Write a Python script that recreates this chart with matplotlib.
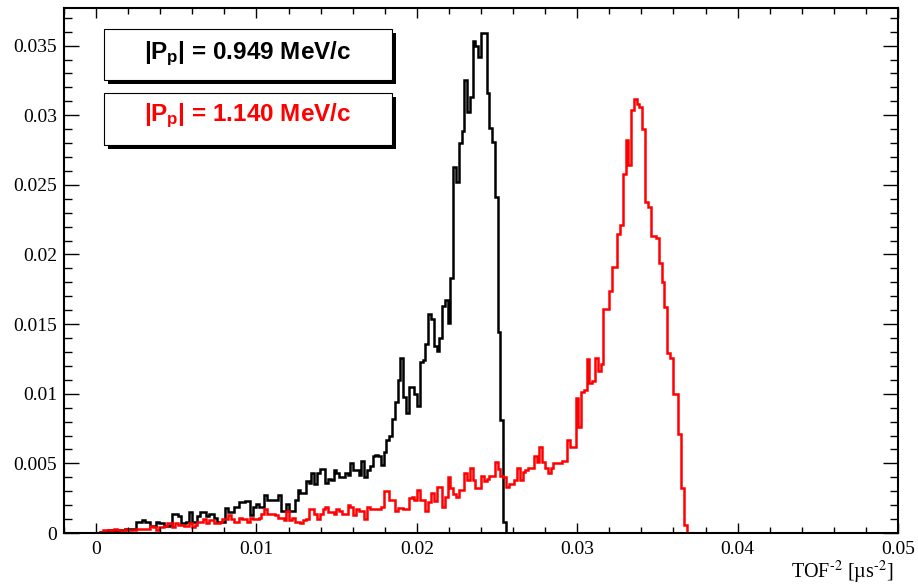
import numpy as np
import matplotlib
matplotlib.use('Agg')
from matplotlib import pyplot as plt
from matplotlib.patches import Rectangle
from matplotlib.ticker import MultipleLocator, FuncFormatter

plt.rcParams['mathtext.fontset'] = 'custom'
plt.rcParams['mathtext.rm'] = 'Liberation Sans:bold'
plt.rcParams['mathtext.it'] = 'Liberation Sans:bold'
plt.rcParams['mathtext.bf'] = 'Liberation Sans:bold'

# binning of both TOF^-2 histograms
x_min, x_max, n_bins = -0.002, 0.05, 300
first_bin = 13

# normalised bin contents from first_bin on (|Pp| = 0.949 MeV/c)
black_vals = [
    0.0001, 0.0001, 0.0001, 0.0002, 0.0002, 0.0001, 0.0002, 0.0002, 0.0002, 0.0003, 0.0003, 0.0003, 0.0003,
    0.0008, 0.0008, 0.0009, 0.0008, 0.0008, 0.0005, 0.0005, 0.0008, 0.0007, 0.0007, 0.0005, 0.0005, 0.0006,
    0.0014, 0.0014, 0.0012, 0.0007, 0.0007, 0.0008, 0.0015, 0.0008, 0.0008, 0.0012, 0.0015, 0.0015, 0.0012,
    0.0014, 0.0014, 0.0011, 0.0008, 0.0008, 0.0008, 0.0018, 0.0015, 0.0015, 0.0019, 0.0019, 0.0022, 0.0022,
    0.0023, 0.0023, 0.0013, 0.0019, 0.0021, 0.0019, 0.0019, 0.0027, 0.0024, 0.0024, 0.0024, 0.0024, 0.0027,
    0.0016, 0.0016, 0.0021, 0.0016, 0.0016, 0.0024, 0.0031, 0.0029, 0.0029, 0.0037, 0.0036, 0.0043, 0.0035,
    0.0043, 0.0046, 0.0046, 0.0036, 0.0039, 0.0038, 0.0045, 0.0043, 0.0040, 0.0040, 0.0043, 0.0042, 0.0050,
    0.0045, 0.0045, 0.0042, 0.0052, 0.0040, 0.0045, 0.0048, 0.0055, 0.0056, 0.0055, 0.0049, 0.0058, 0.0067,
    0.0070, 0.0082, 0.0094, 0.0110, 0.0126, 0.0098, 0.0086, 0.0105, 0.0105, 0.0100, 0.0091, 0.0123, 0.0124,
    0.0136, 0.0157, 0.0154, 0.0134, 0.0131, 0.0140, 0.0163, 0.0167, 0.0151, 0.0183, 0.0263, 0.0252, 0.0280,
    0.0289, 0.0325, 0.0302, 0.0313, 0.0353, 0.0350, 0.0342, 0.0359, 0.0359, 0.0316, 0.0291, 0.0281, 0.0241,
    0.0144, 0.0081, 0.0008,
]

# normalised bin contents from first_bin on (|Pp| = 1.140 MeV/c)
red_vals = [
    0.0001, 0.0002, 0.0002, 0.0002, 0.0002, 0.0003, 0.0002, 0.0002, 0.0002, 0.0003, 0.0002, 0.0002, 0.0002,
    0.0003, 0.0003, 0.0003, 0.0003, 0.0003, 0.0005, 0.0004, 0.0002, 0.0004, 0.0004, 0.0005, 0.0007, 0.0007,
    0.0004, 0.0007, 0.0006, 0.0006, 0.0005, 0.0005, 0.0007, 0.0004, 0.0006, 0.0008, 0.0008, 0.0010, 0.0007,
    0.0009, 0.0009, 0.0007, 0.0007, 0.0008, 0.0010, 0.0010, 0.0013, 0.0010, 0.0008, 0.0008, 0.0011, 0.0010,
    0.0010, 0.0008, 0.0011, 0.0010, 0.0010, 0.0011, 0.0014, 0.0017, 0.0014, 0.0014, 0.0014, 0.0013, 0.0011,
    0.0011, 0.0009, 0.0016, 0.0009, 0.0011, 0.0008, 0.0008, 0.0007, 0.0009, 0.0010, 0.0017, 0.0017, 0.0014,
    0.0010, 0.0014, 0.0017, 0.0019, 0.0015, 0.0015, 0.0014, 0.0017, 0.0016, 0.0014, 0.0014, 0.0020, 0.0019,
    0.0013, 0.0017, 0.0016, 0.0016, 0.0010, 0.0019, 0.0017, 0.0017, 0.0017, 0.0017, 0.0019, 0.0030, 0.0030,
    0.0024, 0.0024, 0.0016, 0.0018, 0.0018, 0.0017, 0.0017, 0.0025, 0.0026, 0.0024, 0.0031, 0.0024, 0.0024,
    0.0016, 0.0022, 0.0029, 0.0023, 0.0033, 0.0033, 0.0019, 0.0026, 0.0040, 0.0032, 0.0028, 0.0026, 0.0031,
    0.0031, 0.0043, 0.0038, 0.0047, 0.0038, 0.0032, 0.0032, 0.0041, 0.0037, 0.0039, 0.0041, 0.0041, 0.0051,
    0.0046, 0.0041, 0.0040, 0.0033, 0.0035, 0.0035, 0.0038, 0.0047, 0.0038, 0.0044, 0.0045, 0.0047, 0.0047,
    0.0055, 0.0051, 0.0062, 0.0051, 0.0047, 0.0043, 0.0047, 0.0050, 0.0050, 0.0050, 0.0052, 0.0052, 0.0067,
    0.0062, 0.0062, 0.0097, 0.0076, 0.0101, 0.0103, 0.0125, 0.0108, 0.0109, 0.0126, 0.0116, 0.0121, 0.0161,
    0.0161, 0.0174, 0.0191, 0.0191, 0.0215, 0.0221, 0.0258, 0.0282, 0.0264, 0.0304, 0.0312, 0.0308, 0.0306,
    0.0290, 0.0238, 0.0234, 0.0213, 0.0213, 0.0212, 0.0194, 0.0180, 0.0162, 0.0129, 0.0126, 0.0100, 0.0100,
    0.0071, 0.0032, 0.0006,
]

labels = [r'$|P_{p}|$ = 0.949 MeV/c', r'$|P_{p}|$ = 1.140 MeV/c']
colors = ['black', 'red']

edges = np.linspace(x_min, x_max, n_bins + 1)


def fill_hist(vals):
    h = np.zeros(n_bins)
    h[first_bin:first_bin + len(vals)] = vals
    return h


fig = plt.figure(figsize=(9.18, 5.86), dpi=100)
ax = fig.add_axes([64 / 918, 53 / 586, 834 / 918, 525 / 586])

for vals, c in zip([black_vals, red_vals], colors):
    ax.stairs(fill_hist(vals), edges, color=c, lw=1.8)

ax.set_xlim(x_min, x_max)
ax.set_ylim(0, 0.0377)

ax.xaxis.set_major_locator(MultipleLocator(0.01))
ax.xaxis.set_minor_locator(MultipleLocator(0.002))
ax.yaxis.set_major_locator(MultipleLocator(0.005))
ax.yaxis.set_minor_locator(MultipleLocator(0.001))
fmt = FuncFormatter(lambda v, pos: '%g' % round(v, 6))
ax.xaxis.set_major_formatter(fmt)
ax.yaxis.set_major_formatter(fmt)

ax.tick_params(which='both', direction='in', top=True, right=True, width=1)
ax.tick_params(axis='x', which='major', length=7.2, pad=6)
ax.tick_params(axis='x', which='minor', length=4.3)
ax.tick_params(axis='y', which='major', length=10.8, pad=5)
ax.tick_params(axis='y', which='minor', length=5.8)
for lab in ax.get_xticklabels() + ax.get_yticklabels():
    lab.set_fontfamily('Liberation Serif')
    lab.set_fontsize(14)
for sp in ax.spines.values():
    sp.set_linewidth(1.5)

ax.set_xlabel(r'TOF$^{\text{-}2}$ [µs$^{\text{-}2}$]', fontfamily='Liberation Serif', fontsize=14.5,
              math_fontfamily='stix', ha='right')
ax.xaxis.set_label_coords(0.994, -0.05)

# TPaveText-like boxes with drop shadow
box_x0, box_x1 = 0.048, 0.393
boxes = [(0.863, 0.960, 0.903), (0.739, 0.838, 0.785)]
sdx, sdy = 0.0048, 0.0076
for (y0, y1, yb), text, c in zip(boxes, labels, colors):
    ax.add_patch(Rectangle((box_x0 + sdx, y0 - sdy), box_x1 - box_x0, y1 - y0,
                           transform=ax.transAxes, facecolor='black', edgecolor='none',
                           zorder=5, clip_on=False))
    ax.add_patch(Rectangle((box_x0, y0), box_x1 - box_x0, y1 - y0,
                           transform=ax.transAxes, facecolor='white', edgecolor='black',
                           lw=0.8, zorder=6, clip_on=False))
    ax.text((box_x0 + box_x1) / 2, yb, text, transform=ax.transAxes, ha='center',
            va='baseline', color=c, fontfamily='Liberation Sans', fontweight='bold',
            fontsize=17.5, zorder=7)

fig.savefig('out.png', dpi=100)
